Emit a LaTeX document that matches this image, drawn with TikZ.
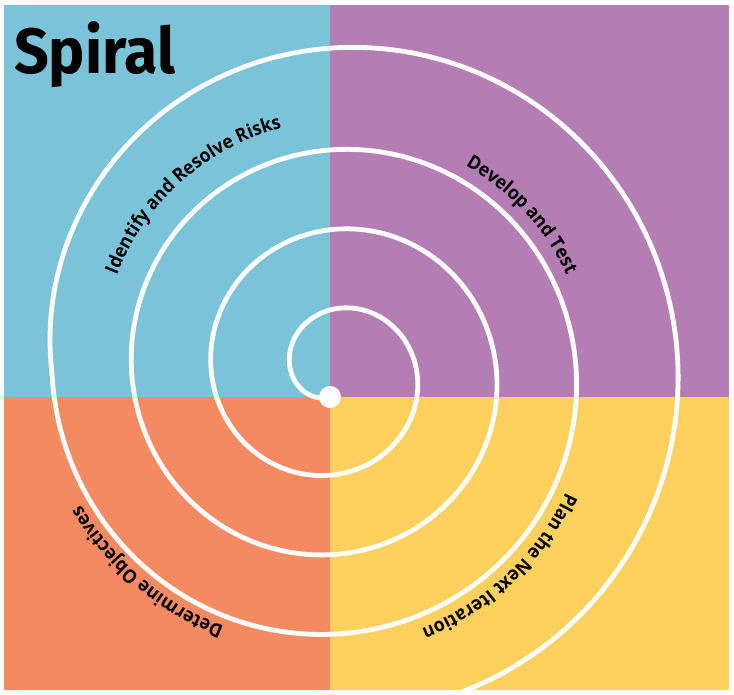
\documentclass[tikz,border=0pt]{standalone}
\usepackage{fontspec}
\newfontfamily\titlefont[FakeStretch=0.95]{Fira Sans}
\newfontfamily\labfont[FakeStretch=0.93]{Open Sans}
\usetikzlibrary{decorations.text}
\definecolor{qblue}{HTML}{7BC3D8}
\definecolor{qpurple}{HTML}{B47EB4}
\definecolor{qorange}{HTML}{F48A62}
\definecolor{qyellow}{HTML}{FED05E}
\newcommand\lbf{\labfont\bfseries\fontsize{19pt}{19pt}\selectfont}
\begin{document}
\begin{tikzpicture}[x=1pt,y=-1pt,
  declare function={
    sps(\a)=max(0,-900-\a);
    spr(\a)=43+0.22139*(180-\a)+0.3675*sps(\a)-0.001358*sps(\a)*sps(\a);
  },
  spiralline/.style={white, line width=4.8pt},
  lab/.style={decorate, decoration={text along path, text align=center, text={|\lbf|#1}}}
]
\useasboundingbox (0,0) rectangle (734,694);
\fill[white] (0,0) rectangle (734,694);
\fill[qblue]   (4,5)     rectangle (330,397);
\fill[qpurple] (330,5)   rectangle (729,397);
\fill[qorange] (4,397)   rectangle (330,690);
\fill[qyellow] (330,397) rectangle (729,690);

\node[anchor=base west, inner sep=0, font=\titlefont\bfseries\fontsize{64pt}{64pt}\selectfont] (title) at (14,73) {Spiral};

\begin{scope}
\clip (4,5) rectangle (729,690);
\draw[spiralline] plot[domain=261:-1160, samples=900] ({334+spr(\x)*cos(\x)},{372-spr(\x)*sin(\x)});
\end{scope}
\node[circle, fill=white, inner sep=0, minimum size=22pt] (dot) at (330,397) {};

\path[lab={Identify and Resolve Risks}] plot[domain=0:1, samples=90] ({334+(spr(-535-110*\x)+30)*cos(-535-110*\x)},{372-(spr(-535-110*\x)+30)*sin(-535-110*\x)});
\path[lab={Develop and Test}] plot[domain=0:1, samples=90] ({334+(spr(-629-100*\x)+15)*cos(-629-100*\x)},{372-(spr(-629-100*\x)+15)*sin(-629-100*\x)});
\path[lab={Plan the Next Iteration}] plot[domain=0:1, samples=90] ({334+(spr(-718.5-100*\x)+13)*cos(-718.5-100*\x)},{372-(spr(-718.5-100*\x)+13)*sin(-718.5-100*\x)});
\path[lab={Determine Objectives}] plot[domain=0:1, samples=90] ({334+(spr(-802-100*\x)+10)*cos(-802-100*\x)},{372-(spr(-802-100*\x)+10)*sin(-802-100*\x)});
\end{tikzpicture}
\end{document}
